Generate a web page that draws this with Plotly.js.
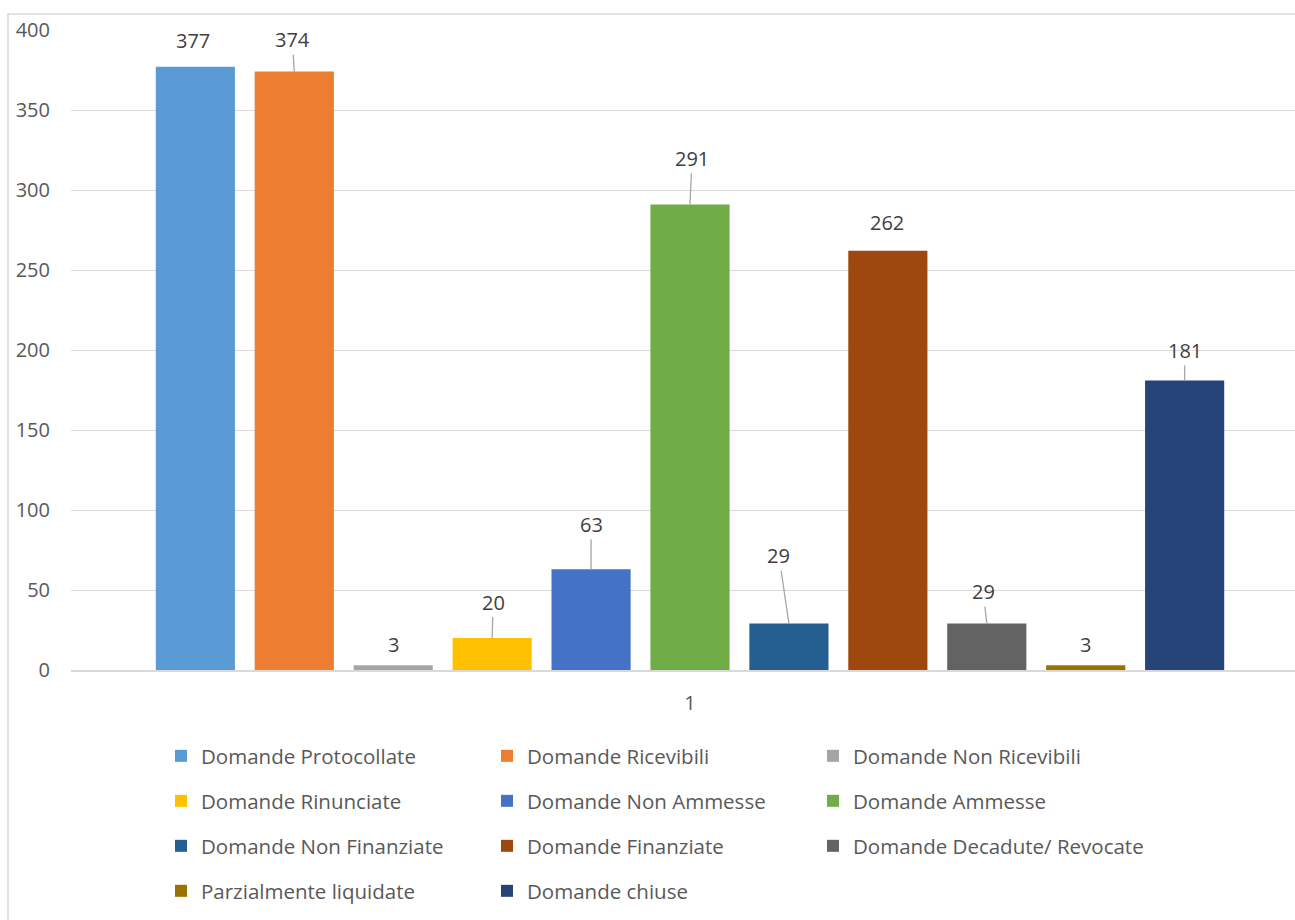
<!DOCTYPE html>
<html>
<head>
<meta charset="utf-8">
<script src="https://cdn.plot.ly/plotly-3.0.1.min.js"></script>
<style>
  html, body { margin: 0; padding: 0; background: #ffffff; }
  #chart { width: 1295px; height: 920px; }
</style>
</head>
<body>
<div id="chart"></div>
<script>
// ---- data ----
const category = ['1'];
const seriesNames = [
  'Domande Protocollate',
  'Domande Ricevibili',
  'Domande Non Ricevibili',
  'Domande Rinunciate',
  'Domande Non Ammesse',
  'Domande Ammesse',
  'Domande Non Finanziate',
  'Domande Finanziate',
  'Domande Decadute/ Revocate',
  'Parzialmente liquidate',
  'Domande chiuse'
];
const seriesValues = [377, 374, 3, 20, 63, 291, 29, 262, 29, 3, 181];
const yTickValues = [0, 50, 100, 150, 200, 250, 300, 350, 400];

// ---- styles ----
const seriesColors = ['#5B9BD5', '#ED7D31', '#A5A5A5', '#FFC000', '#4472C4', '#70AD47',
                      '#255E91', '#9E480E', '#636363', '#997300', '#264478'];
// data-label placement (pixel offsets from bar top) and whether a leader line is drawn
const labelDx = [-2, -2, 0, 1, 0, 2, -10, -1, -3.5, 0, 0];
const labelDy = [-26, -32, -21, -36, -45, -46, -68, -28, -32, -21, -30];
const labelLeader = [false, true, false, true, true, true, true, false, true, false, true];
const legendRowOf = [0, 0, 0, 1, 1, 1, 2, 2, 2, 3, 3];
const legendColOf = [0, 1, 2, 0, 1, 2, 0, 1, 2, 0, 1];

const W = 1295, H = 920;
const M = {l: 71, r: 0, t: 30, b: 250};
const plotW = W - M.l - M.r, plotH = H - M.t - M.b;
const bargap = 0.121, bargroupgap = 0.2;
const xRange = [-0.5, 0.4887];

const legendKeys = ['legend', 'legend2', 'legend3', 'legend4'];
const traces = seriesNames.map((name, i) => ({
  type: 'bar',
  name: name,
  x: category,
  y: [seriesValues[i]],
  marker: {color: seriesColors[i], line: {width: 0}},
  legend: legendKeys[legendRowOf[i]],
  legendwidth: legendColOf[i] === 2 ? 340 : 281,
  hoverinfo: 'name+y'
}));

const n = seriesNames.length;
const slot = (1 - bargap) / n;
const annotations = seriesValues.map((v, i) => {
  const xc = (i - (n - 1) / 2) * slot;
  const base = {
    x: xc, y: v, xref: 'x', yref: 'y',
    text: String(v),
    font: {family: 'Open Sans', size: 20, color: '#404040'}
  };
  if (labelLeader[i]) {
    return Object.assign(base, {
      showarrow: true, arrowhead: 0, arrowwidth: 1.3, arrowcolor: '#A6A6A6',
      standoff: 0, ax: labelDx[i], ay: labelDy[i]
    });
  }
  return Object.assign(base, {
    showarrow: false, xanchor: 'center', yanchor: 'middle',
    xshift: labelDx[i], yshift: -labelDy[i]
  });
});

const legendRowsY = [756, 801, 846, 891];
const legendLeftPx = 161;
const legendCommon = {
  orientation: 'h',
  xanchor: 'left', yanchor: 'middle',
  x: (legendLeftPx - M.l) / plotW,
  entrywidth: 281, entrywidthmode: 'pixels',
  font: {family: 'Open Sans', size: 20.5, color: '#595959'},
  bgcolor: 'rgba(0,0,0,0)', borderwidth: 0,
  itemclick: false, itemdoubleclick: false,
  traceorder: 'normal'
};

const layout = {
  width: W, height: H,
  margin: M,
  paper_bgcolor: '#ffffff', plot_bgcolor: '#ffffff',
  barmode: 'group', bargap: bargap, bargroupgap: bargroupgap,
  showlegend: true,
  font: {family: 'Open Sans', size: 20, color: '#595959'},
  xaxis: {
    type: 'category', range: xRange, fixedrange: true,
    showgrid: false, zeroline: false,
    showline: true, linecolor: '#D9D9D9', linewidth: 1.5,
    ticks: '', ticklabelstandoff: 14,
    tickfont: {family: 'Open Sans', size: 20, color: '#595959'}
  },
  yaxis: {
    range: [0, 400], fixedrange: true,
    tickmode: 'array', tickvals: yTickValues, ticktext: yTickValues.map(String),
    showgrid: true, gridcolor: '#D9D9D9', gridwidth: 1.3,
    zeroline: false, showline: false, ticks: '', ticklabelstandoff: 20,
    tickfont: {family: 'Open Sans', size: 20, color: '#595959'}
  },
  annotations: annotations,
  shapes: [{
    type: 'rect', xref: 'paper', yref: 'paper', layer: 'below',
    x0: (8 - M.l) / plotW, x1: 1.02,
    y0: (H - M.b - 14) / plotH, y1: -0.5,
    line: {color: '#D9D9D9', width: 1.5}, fillcolor: 'rgba(0,0,0,0)'
  }]
};
legendKeys.forEach((k, r) => {
  layout[k] = Object.assign({}, legendCommon, {y: (H - M.b - legendRowsY[r]) / plotH});
});

Plotly.newPlot('chart', traces, layout, {displayModeBar: false, staticPlot: false, responsive: false});
</script>
</body>
</html>
